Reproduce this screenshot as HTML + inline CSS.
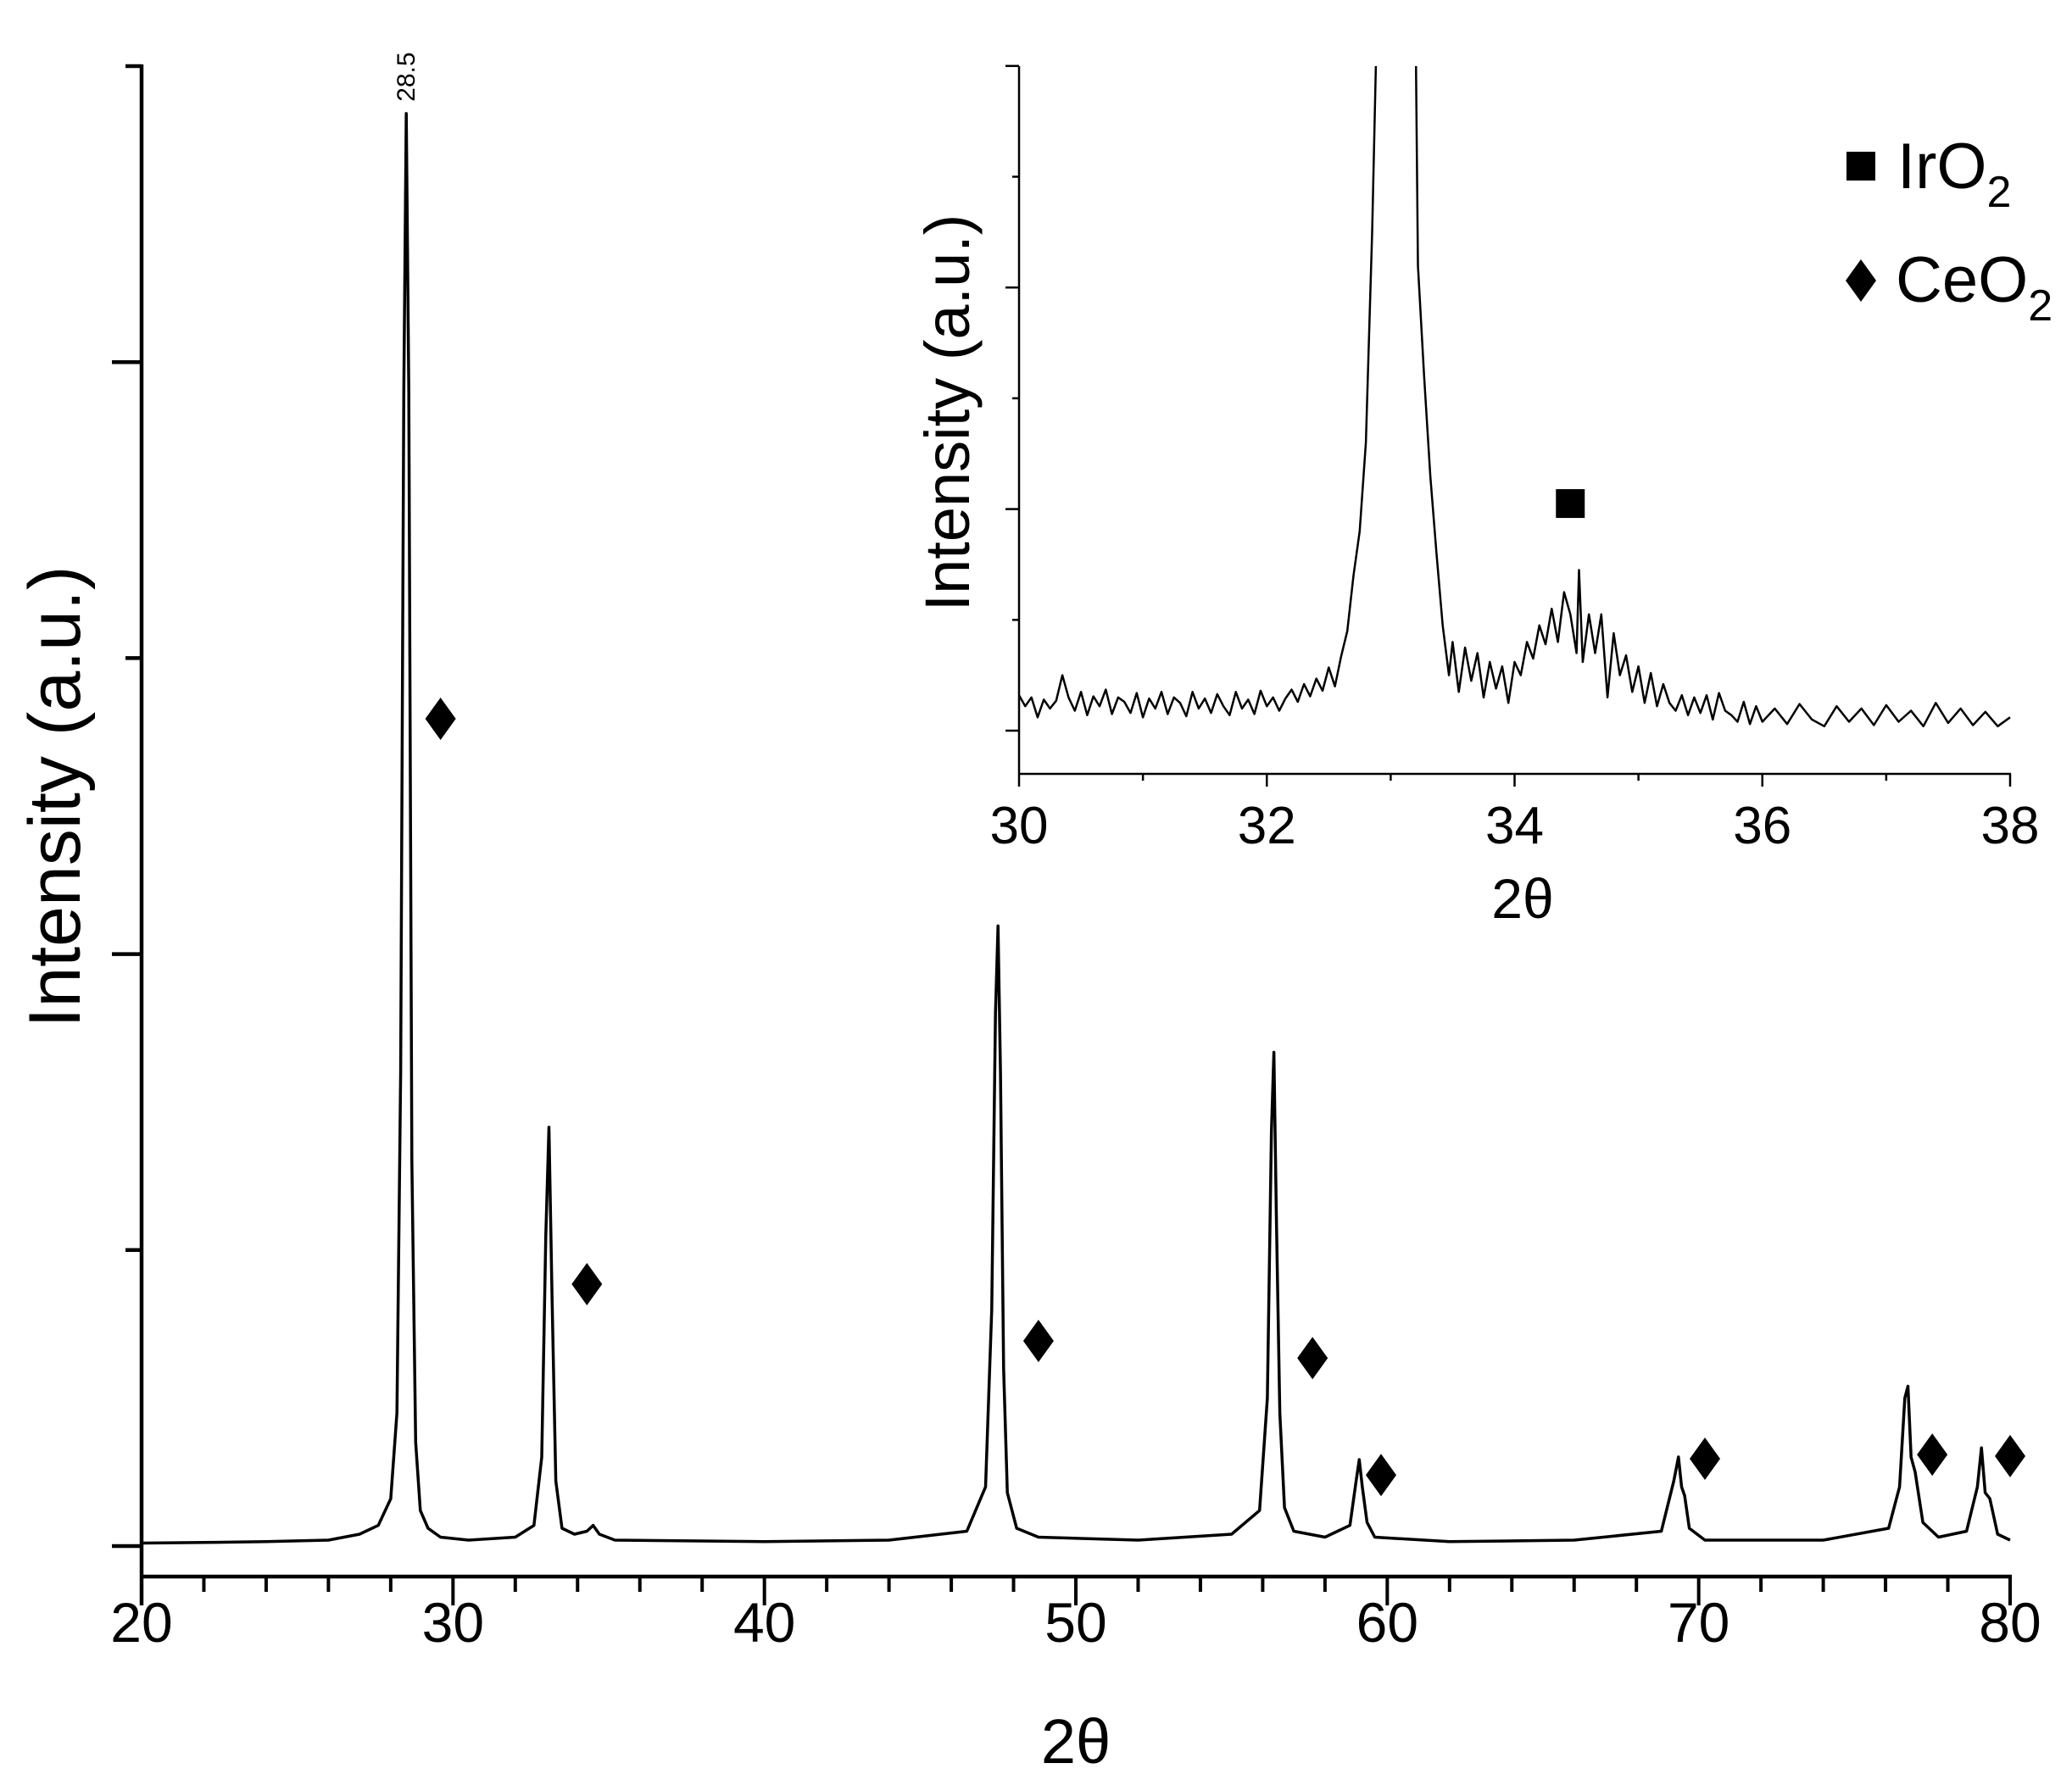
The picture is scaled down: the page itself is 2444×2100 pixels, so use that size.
<!DOCTYPE html>
<html><head><meta charset="utf-8"><style>
html,body{margin:0;padding:0;background:#fff}
svg{display:block;font-family:"Liberation Sans",Arial,sans-serif}
</style></head><body>
<svg id="chart" width="2444" height="2100" viewBox="0 0 2444 2100" xmlns="http://www.w3.org/2000/svg">
<g id="main"></g>
<g id="inset"></g>
<g id="legend">
  <rect x="2178" y="179" width="34" height="34" fill="#000"/>
  <text x="2238" y="222" font-size="76">IrO<tspan font-size="52" dy="22">2</tspan></text>
  <polygon points="2195,306 2213,331 2195,356 2177,331" fill="#000"/>
  <text x="2236" y="356" font-size="76">CeO<tspan font-size="52" dy="22">2</tspan></text>
</g>
</svg>
<script>
// ---- main chart data ----
const mainX = [20,22,24,26,27,27.6,28.0,28.2,28.32,28.42,28.5,28.58,28.68,28.8,28.95,29.2,29.6,30.5,32,32.6,32.85,32.98,33.08,33.18,33.3,33.5,33.9,34.3,34.5,34.7,35.2,40,44,46.5,47.1,47.3,47.42,47.5,47.58,47.68,47.8,48.1,48.8,52,53.5,55,55.9,56.15,56.28,56.36,56.44,56.55,56.7,57.0,58.0,58.8,59.0,59.1,59.2,59.35,59.6,62,66,68.8,69.2,69.35,69.45,69.55,69.7,70.2,74,76.1,76.45,76.62,76.72,76.82,76.95,77.2,77.7,78.6,78.95,79.08,79.2,79.35,79.6,80];
const mainY = [0.01,0.012,0.015,0.02,0.04,0.07,0.16,0.45,1.6,3.9,4.84,3.9,1.3,0.35,0.12,0.06,0.03,0.02,0.03,0.07,0.3,1.05,1.415,0.85,0.22,0.06,0.04,0.05,0.07,0.04,0.02,0.015,0.02,0.05,0.2,0.8,1.8,2.095,1.6,0.6,0.18,0.06,0.03,0.02,0.03,0.04,0.12,0.5,1.4,1.668,1.1,0.45,0.13,0.05,0.03,0.07,0.22,0.292,0.2,0.08,0.03,0.015,0.02,0.05,0.22,0.301,0.2,0.17,0.06,0.02,0.02,0.06,0.2,0.5,0.54,0.3,0.25,0.08,0.03,0.05,0.2,0.332,0.18,0.16,0.04,0.02];
const xTicks = [20,30,40,50,60,70,80];
const yTickVals = [0,1,2,3,4,5];
const ceX = [29.6,34.3,48.8,57.6,59.8,70.2,77.5,80.0];
const ceY = [2.795,0.885,0.693,0.635,0.24,0.295,0.309,0.304];
// ---- inset data ----
const insX = [30.00,30.05,30.10,30.15,30.20,30.25,30.30,30.35,30.40,30.45,30.50,30.55,30.60,30.65,30.70,30.75,30.80,30.85,30.90,30.95,31.00,31.05,31.10,31.15,31.20,31.25,31.30,31.35,31.40,31.45,31.50,31.55,31.60,31.65,31.70,31.75,31.80,31.85,31.90,31.95,32.00,32.05,32.10,32.15,32.20,32.25,32.30,32.35,32.40,32.45,32.50,32.55,32.60,32.65,32.70,32.75,32.80,32.85,32.90,33.00,33.10,33.20,33.22,33.27,33.32,33.37,33.42,33.47,33.50,33.55,33.60,33.65,33.70,33.75,33.80,33.85,33.90,33.95,34.00,34.05,34.10,34.15,34.20,34.25,34.30,34.35,34.40,34.45,34.50,34.52,34.55,34.60,34.65,34.70,34.75,34.80,34.85,34.90,34.95,35.00,35.05,35.10,35.15,35.20,35.25,35.30,35.35,35.40,35.45,35.50,35.55,35.60,35.65,35.70,35.75,35.80,35.85,35.90,35.95,36.00,36.10,36.20,36.30,36.40,36.50,36.60,36.70,36.80,36.90,37.00,37.10,37.20,37.30,37.40,37.50,37.60,37.70,37.80,37.90,38.00];
const insY = [0.32,0.22,0.30,0.12,0.28,0.20,0.27,0.50,0.30,0.18,0.35,0.14,0.31,0.22,0.37,0.15,0.30,0.26,0.16,0.34,0.12,0.29,0.20,0.35,0.15,0.30,0.25,0.13,0.35,0.20,0.29,0.16,0.33,0.22,0.14,0.35,0.20,0.28,0.15,0.36,0.22,0.30,0.18,0.29,0.37,0.26,0.42,0.31,0.47,0.36,0.57,0.40,0.67,0.90,1.40,1.80,2.60,4.50,7.00,8.00,8.00,6.50,4.20,3.20,2.30,1.60,0.95,0.50,0.80,0.35,0.75,0.45,0.70,0.30,0.62,0.38,0.58,0.25,0.62,0.50,0.80,0.65,0.95,0.78,1.10,0.80,1.25,1.05,0.70,1.45,0.62,1.05,0.70,1.05,0.30,0.88,0.50,0.68,0.35,0.58,0.25,0.52,0.22,0.42,0.25,0.18,0.32,0.14,0.30,0.16,0.32,0.10,0.34,0.18,0.14,0.08,0.26,0.06,0.22,0.08,0.20,0.06,0.24,0.10,0.04,0.22,0.08,0.20,0.05,0.23,0.08,0.18,0.04,0.25,0.07,0.20,0.05,0.17,0.04,0.12];
const insXTicks = [30,32,34,36,38];
const irX = [34.45];
const irY = [2.05];

const NS = "http://www.w3.org/2000/svg";
function mk(parent, tag, attrs){const e=document.createElementNS(NS,tag);for(const k in attrs)e.setAttribute(k,attrs[k]);parent.appendChild(e);return e;}

// main axes
const mx = v => 167 + (v-20)*(2371-167)/60;
const my = v => 1824 - v*349.2;
const main = document.getElementById('main');
let a = mk(main,'line',{x1:167,y1:76,x2:167,y2:1894,stroke:'#000','stroke-width':4.5});


a = mk(main,'line',{x1:165,y1:1860,x2:2373,y2:1860,stroke:'#000','stroke-width':4.5});


for(let v=20; v<=80; v+=2){
  const major = (v%10===0);
  const t = mk(main,'line',{x1:mx(v),y1:1860,x2:mx(v),y2:major?1894:1878,stroke:'#000','stroke-width':4});
  
  
}
xTicks.forEach(v=>{
  const t = mk(main,'text',{x:mx(v),y:1937,'font-size':66,'text-anchor':'middle'});
  t.textContent = v;
  
  
});
yTickVals.forEach(v=>{
  const t = mk(main,'line',{x1:(v%2===0)?132:148,y1:my(v),x2:167,y2:my(v),stroke:'#000','stroke-width':4.5});
  
  
});
let xt = mk(main,'text',{x:1269,y:2080,'font-size':74,'text-anchor':'middle'});
xt.textContent='2θ';


let yt = mk(main,'text',{x:0,y:0,'font-size':86,'text-anchor':'middle',transform:'translate(94,940) rotate(-90)'});
yt.textContent='Intensity (a.u.)';


let d = mainX.map((x,i)=>(i?'L':'M')+mx(x).toFixed(1)+','+my(mainY[i]).toFixed(1)).join('');
let p = mk(main,'path',{d:d,fill:'none',stroke:'#000','stroke-width':3.5,'stroke-linejoin':'round'});


let pl = mk(main,'text',{x:0,y:0,'font-size':30,transform:`translate(${mx(28.5)+10},${my(4.84)-14}) rotate(-90)`});
pl.textContent='28.5';


ceX.forEach((x,i)=>{
  const cx=mx(x), cy=my(ceY[i]);
  const m = mk(main,'polygon',{points:`${cx},${cy-25} ${cx+18},${cy} ${cx},${cy+25} ${cx-18},${cy}`,fill:'#000'});
  
  
});

// inset axes
const ix = v => 1202 + (v-30)*(2371-1202)/8;
const iy = v => 862 - v*130.7;
const ins = document.getElementById('inset');
mk(ins,'clipPath',{id:'ic'}).appendChild(document.createElementNS(NS,'rect'));
const cr = document.querySelector('#ic rect'); cr.setAttribute('x',1202);cr.setAttribute('y',78);cr.setAttribute('width',1175);cr.setAttribute('height',835);
a = mk(ins,'line',{x1:1202,y1:78,x2:1202,y2:913,stroke:'#000','stroke-width':2.5});


a = mk(ins,'line',{x1:1201,y1:913,x2:2372,y2:913,stroke:'#000','stroke-width':2.5});


for(let v=30; v<=38; v+=1){
  const t = mk(ins,'line',{x1:ix(v),y1:913,x2:ix(v),y2:(v%2===0)?928:921,stroke:'#000','stroke-width':2.5});
  
  
}
for(let k=0;k<=6;k++){
  const t = mk(ins,'line',{x1:(k%2===0)?1186:1194,y1:iy(k),x2:1202,y2:iy(k),stroke:'#000','stroke-width':2.5});
  
  
}
insXTicks.forEach(v=>{
  const t = mk(ins,'text',{x:ix(v),y:995,'font-size':62,'text-anchor':'middle'});
  t.textContent=v;
  
  
});
xt = mk(ins,'text',{x:1796,y:1083,'font-size':66,'text-anchor':'middle'});
xt.textContent='2θ';


yt = mk(ins,'text',{x:0,y:0,'font-size':74,'text-anchor':'middle',transform:'translate(1143,487) rotate(-90)'});
yt.textContent='Intensity (a.u.)';


d = insX.map((x,i)=>(i?'L':'M')+ix(x).toFixed(1)+','+iy(insY[i]).toFixed(1)).join('');
p = mk(ins,'path',{d:d,fill:'none',stroke:'#000','stroke-width':2.5,'stroke-linejoin':'round','clip-path':'url(#ic)'});


irX.forEach((x,i)=>{
  const m = mk(ins,'rect',{x:ix(x)-17,y:iy(irY[i])-17,width:34,height:34,fill:'#000'});
  
  
});
</script>
</body></html>
